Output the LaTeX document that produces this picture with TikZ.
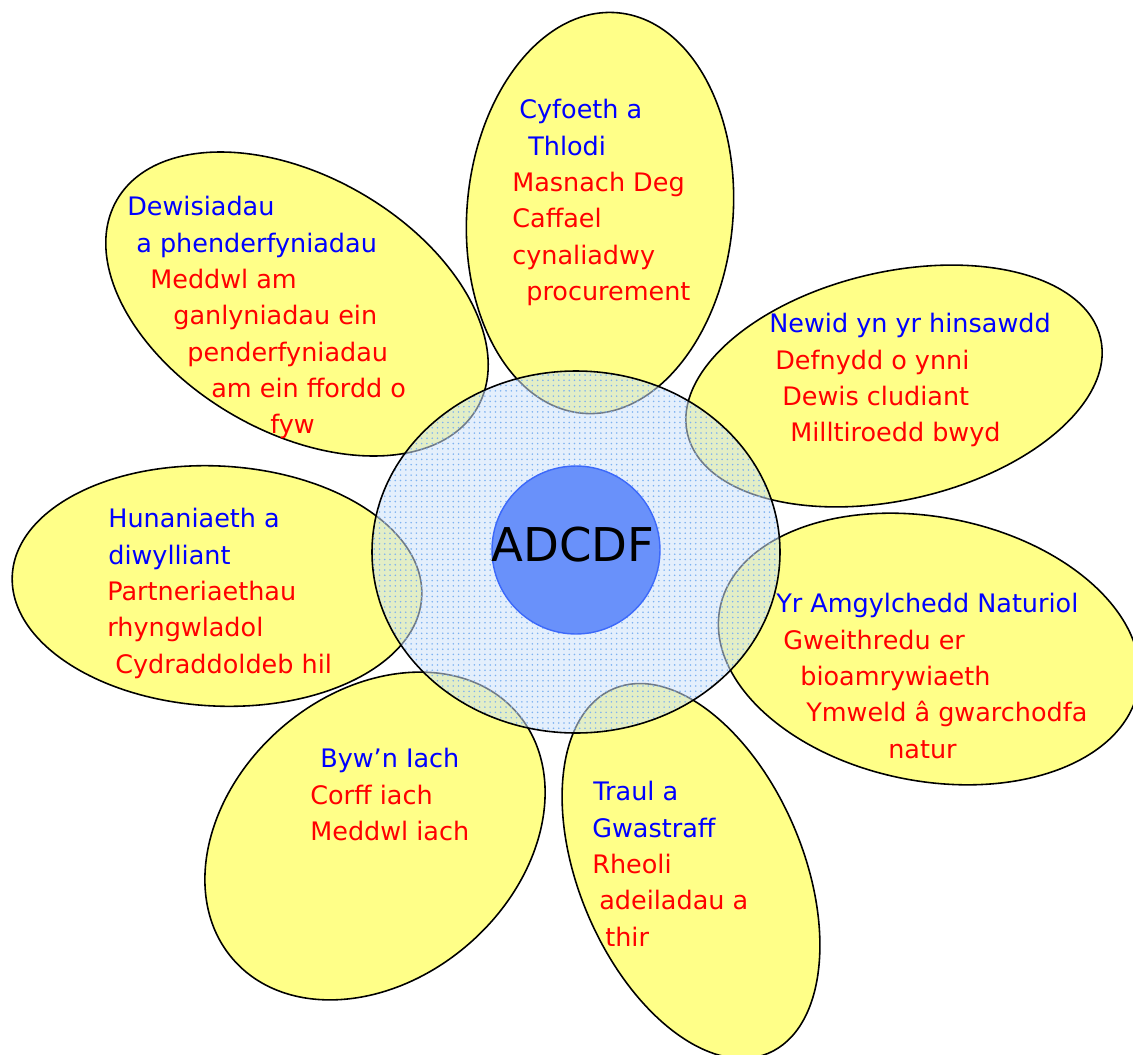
\documentclass[tikz,border=0pt]{standalone}
\usepackage{fontspec}
\setmainfont{DejaVu Sans}
\usetikzlibrary{patterns}
\definecolor{petalyellow}{RGB}{255,255,136}
\definecolor{ringfill}{RGB}{205,225,250}
\definecolor{ringdots}{RGB}{125,178,240}
\definecolor{corefill}{RGB}{105,145,250}
\definecolor{coreline}{RGB}{60,105,250}
\newcommand{\drawPetal}[5]{% centre: x,y; radii: a,b; angle
  \draw[petal, shift={(#1,-#2)}, rotate=#5] (0,0) ellipse (#3 and #4);
}
\newcommand{\bl}[1]{\textcolor{blue}{#1}}
\newcommand{\rd}[1]{\textcolor{red}{#1}}

\begin{document}
\begin{tikzpicture}[x=0.02cm,y=0.02cm,
  petal/.style={fill=petalyellow,draw=black,line width=0.9pt},
  words/.style={align=left,inner sep=0pt,anchor=north west,
    font=\fontsize{14.5}{20.7}\selectfont}]
\useasboundingbox (0,0) rectangle (1133,-1055);

% petals
\drawPetal{600}{213}{133}{201}{-5}
\drawPetal{297}{304}{208}{128}{-30}
\drawPetal{894}{386}{212}{114}{13}
\drawPetal{217}{586}{205}{120}{-3}
\drawPetal{929}{649}{213}{132}{-11}
\drawPetal{375}{836}{188}{143}{41}
\drawPetal{691}{871}{112}{198}{23}

% ring over the petals
\fill[ringfill, fill opacity=0.55] (576,-552) ellipse (204 and 181);
\fill[pattern=dots, pattern color=ringdots] (576,-552) ellipse (204 and 181);
\draw[line width=0.9pt] (576,-552) ellipse (204 and 181);

\node[circle,fill=corefill,draw=coreline,line width=0.8pt,inner sep=0pt,
  minimum size=3.36cm] (core) at (576,-550) {};
\node[font=\fontsize{26.5}{30}\selectfont,inner sep=0pt] (coretext) at (573,-545) {ADCDF};

% texts
\node[words] (choices) at (127,-196) {\bl{Dewisiadau}\\
  \hspace*{0.18cm}\bl{a phenderfyniadau}\\
  \hspace*{0.46cm}\rd{Meddwl am}\\
  \hspace*{0.92cm}\rd{ganlyniadau ein}\\
  \hspace*{1.2cm}\rd{penderfyniadau}\\
  \hspace*{1.68cm}\rd{am ein ffordd o}\\
  \hspace*{2.86cm}\rd{fyw}};
\node[words] (wealth) at (512,-99) {\hspace*{0.14cm}\bl{Cyfoeth a}\\
  \hspace*{0.32cm}\bl{Thlodi}\\
  \rd{Masnach Deg}\\
  \rd{Caffael}\\
  \rd{cynaliadwy}\\
  \hspace*{0.28cm}\rd{procurement}};
\node[words] (climate) at (769,-313) {\bl{Newid yn yr hinsawdd}\\
  \hspace*{0.12cm}\rd{Defnydd o ynni}\\
  \hspace*{0.26cm}\rd{Dewis cludiant}\\
  \hspace*{0.42cm}\rd{Milltiroedd bwyd}};
\node[words] (identity) at (107,-508) {\hspace*{0.02cm}\bl{Hunaniaeth a}\\
  \hspace*{0.02cm}\bl{diwylliant}\\
  \rd{Partneriaethau}\\
  \rd{rhyngwladol}\\
  \hspace*{0.16cm}\rd{Cydraddoldeb hil}};
\node[words] (nature) at (776,-593) {\bl{Yr Amgylchedd Naturiol}\\
  \hspace*{0.14cm}\rd{Gweithredu er}\\
  \hspace*{0.48cm}\rd{bioamrywiaeth}\\
  \hspace*{0.6cm}\rd{Ymweld â gwarchodfa}\\
  \hspace*{2.24cm}\rd{natur}};
\node[words] (health) at (310,-748) {\hspace*{0.2cm}\bl{Byw’n Iach}\\
  \rd{Corff iach}\\
  \rd{Meddwl iach}};
\node[words] (waste) at (592,-781) {\hspace*{0.02cm}\bl{Traul a}\\
  \bl{Gwastraff}\\
  \rd{Rheoli}\\
  \hspace*{0.14cm}\rd{adeiladau a}\\
  \hspace*{0.26cm}\rd{thir}};
\end{tikzpicture}
\end{document}
